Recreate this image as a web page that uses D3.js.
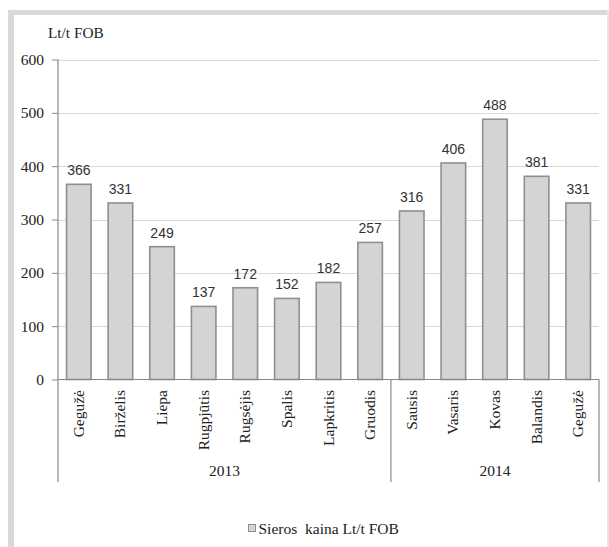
<!DOCTYPE html>
<html>
<head>
<meta charset="utf-8">
<script src="https://cdn.jsdelivr.net/npm/d3@7"></script>
<style>
  html, body { margin: 0; padding: 0; background: #fff; }
  svg { display: block; }
  .serif { font-family: "Liberation Serif", "Times New Roman", serif; }
  .sans { font-family: "Liberation Sans", Arial, sans-serif; }
</style>
</head>
<body>
<svg id="chart" width="609" height="547"></svg>
<script>
const months = ["Gegužė","Birželis","Liepa","Rugpjūtis","Rugsėjis","Spalis","Lapkritis","Gruodis","Sausis","Vasaris","Kovas","Balandis","Gegužė"];
const values = [366, 331, 249, 137, 172, 152, 182, 257, 316, 406, 488, 381, 331];
const years = ["2013", "2014"];
const yearCounts = [8, 5];
const yTicks = [0, 100, 200, 300, 400, 500, 600];
const unitLabel = "Lt/t FOB";
const seriesName = "Sieros\u00a0 kaina Lt/t FOB";

(function () {
const svg = d3.select("#chart");

// frame
const frameCol = "#d9d9d9";
svg.append("rect").attr("x", 8).attr("y", 10).attr("width", 601).attr("height", 5).attr("fill", frameCol);
svg.append("rect").attr("x", 8).attr("y", 10).attr("width", 6).attr("height", 537).attr("fill", frameCol);
svg.append("rect").attr("x", 607).attr("y", 10).attr("width", 2).attr("height", 537).attr("fill", "#e6e6e6");

const pLeft = 58, pRight = 599, pTop = 59.5, pBottom = 379.5;
const x = d3.scaleBand().domain(d3.range(months.length)).range([pLeft, pRight]).paddingInner(0.41).paddingOuter(0.205);
const y = d3.scaleLinear().domain([0, 600]).range([pBottom, pTop]);

// gridlines
svg.append("g").selectAll("line").data(yTicks.filter(d => d > 0)).join("line")
  .attr("x1", pLeft).attr("x2", pRight)
  .attr("y1", d => Math.round(y(d)) + 0.5).attr("y2", d => Math.round(y(d)) + 0.5)
  .attr("stroke", "#d9d9d9").attr("stroke-width", 1.2);

// bars
svg.append("g").selectAll("rect").data(values).join("rect")
  .attr("x", (d, i) => x(i)).attr("width", x.bandwidth())
  .attr("y", d => y(d)).attr("height", d => y(0) - y(d))
  .attr("fill", "#d4d4d6").attr("stroke", "#8f8f8f").attr("stroke-width", 1.6);

// value labels
svg.append("g").selectAll("text").data(values).join("text")
  .attr("class", "sans")
  .attr("x", (d, i) => x(i) + x.bandwidth() / 2)
  .attr("y", d => y(d) - 9)
  .attr("text-anchor", "middle")
  .style("font-size", "14px").attr("fill", "#333")
  .text(d => d);

// y axis
const yAxis = d3.axisLeft(y).tickValues(yTicks).tickSize(6).tickPadding(8);
const ga = svg.append("g").attr("transform", `translate(${pLeft},0)`).call(yAxis);
ga.attr("font-family", null).attr("font-size", null);
ga.select(".domain").remove();
ga.selectAll(".tick line").attr("stroke", "#888");
ga.selectAll(".tick text").attr("class", "serif").style("font-size", "15.5px").attr("fill", "#222");
svg.append("line").attr("x1", pLeft).attr("x2", pLeft).attr("y1", pTop).attr("y2", 482)
  .attr("stroke", "#888").attr("stroke-width", 1.2);

// category axis line
svg.append("line").attr("x1", pLeft).attr("x2", pRight).attr("y1", pBottom).attr("y2", pBottom)
  .attr("stroke", "#888").attr("stroke-width", 1.2);

// month labels
svg.append("g").selectAll("text").data(months).join("text")
  .attr("class", "serif")
  .attr("transform", (d, i) => `translate(${x(i) + x.bandwidth() / 2 + 5},390) rotate(-90)`)
  .attr("text-anchor", "end")
  .style("font-size", "15.5px").attr("fill", "#222")
  .text(d => d);

// year groups
const step = x.step();
let start = 0;
const bounds = [];
years.forEach((yr, k) => {
  const x0 = pLeft + start * step;
  const x1 = pLeft + (start + yearCounts[k]) * step;
  bounds.push(x1);
  svg.append("text").attr("class", "serif").attr("x", (x0 + x1) / 2).attr("y", 476)
    .attr("text-anchor", "middle").style("font-size", "15.5px").attr("fill", "#222")
    .text(yr);
  start += yearCounts[k];
});
bounds.forEach(bx => {
  svg.append("line").attr("x1", bx).attr("x2", bx).attr("y1", pBottom).attr("y2", 482)
    .attr("stroke", "#888").attr("stroke-width", 1.2);
});

// unit label
svg.append("text").attr("class", "serif").attr("x", 48).attr("y", 38)
  .style("font-size", "15.3px").attr("fill", "#222").text(unitLabel);

// legend
svg.append("rect").attr("x", 248.5).attr("y", 524.5).attr("width", 7).attr("height", 7)
  .attr("fill", "#d4d4d6").attr("stroke", "#8f8f8f").attr("stroke-width", 1);
svg.append("text").attr("class", "serif").attr("x", 258.5).attr("y", 533.5)
  .style("font-size", "15.5px").attr("fill", "#222")
  .text(seriesName);
})();
</script>
</body>
</html>
